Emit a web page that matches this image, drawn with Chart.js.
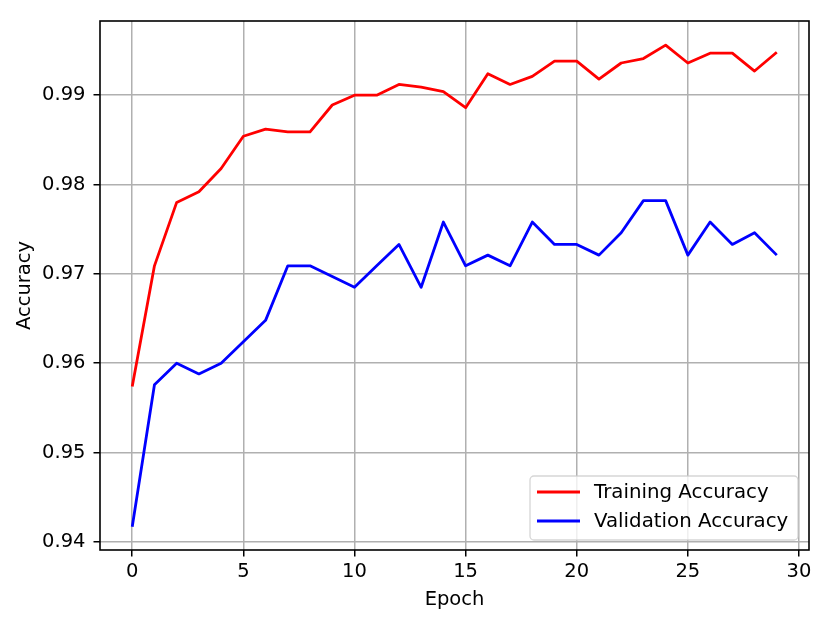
<!DOCTYPE html>
<html>
<head>
<meta charset="utf-8">
<script src="https://cdn.jsdelivr.net/npm/chart.js@4"></script>
<style>
  body { margin: 0; background: #fff; }
  #wrap { width: 830px; height: 625px; }
</style>
</head>
<body>
<div id="wrap"><canvas id="accChart" width="830" height="625"></canvas></div>
<script>
// data
const epochs = [0, 1, 2, 3, 4, 5, 6, 7, 8, 9, 10, 11, 12, 13, 14,
  15, 16, 17, 18, 19, 20, 21, 22, 23, 24, 25, 26, 27, 28, 29];
const trainAcc = [0.9574, 0.9709, 0.9780, 0.9792, 0.9818, 0.9854, 0.9862, 0.9859, 0.9859, 0.9889,
  0.9900, 0.9900, 0.9912, 0.9909, 0.9904, 0.9886, 0.9924, 0.9912, 0.9921, 0.9938,
  0.9938, 0.9918, 0.9936, 0.9941, 0.9956, 0.9936, 0.9947, 0.9947, 0.9927, 0.9948];
const valAcc = [0.9417, 0.9576, 0.9600, 0.9588, 0.9600, 0.9624, 0.9648, 0.9709, 0.9709, 0.9697,
  0.9685, 0.9709, 0.9733, 0.9685, 0.9758, 0.9709, 0.9721, 0.9709, 0.9758, 0.9733,
  0.9733, 0.9721, 0.9746, 0.9782, 0.9782, 0.9721, 0.9758, 0.9733, 0.9746, 0.9721];
const xTicks = [0, 5, 10, 15, 20, 25, 30];
const yTicks = [0.94, 0.95, 0.96, 0.97, 0.98, 0.99];

const FONT = 'DejaVu Sans';
const FS = 19.5;
Chart.defaults.color = '#000';
Chart.defaults.font.family = FONT;
Chart.defaults.font.size = FS;

const toPoints = (ys) => ys.map((y, i) => ({ x: epochs[i], y: y }));

// frame (spines) on top of the lines, then the matplotlib-like legend
const framePlugin = {
  id: 'frame',
  afterDatasetsDraw(chart) {
    const { ctx, chartArea: a } = chart;
    ctx.save();
    ctx.strokeStyle = '#000';
    ctx.lineWidth = 1.6;
    ctx.strokeRect(a.left, a.top, a.right - a.left, a.bottom - a.top);

    // legend box in lower right corner
    const w = 268, h = 64, r = 4;
    const x0 = a.right - 11 - w, y0 = a.bottom - 10 - h;
    ctx.beginPath();
    ctx.roundRect(x0, y0, w, h, r);
    ctx.fillStyle = 'rgba(255,255,255,0.8)';
    ctx.fill();
    ctx.strokeStyle = 'rgba(204,204,204,0.8)';
    ctx.lineWidth = 1.3;
    ctx.stroke();
    ctx.font = '19.8px "' + FONT + '"';
    ctx.textBaseline = 'middle';
    ctx.textAlign = 'left';
    chart.data.datasets.forEach((ds, i) => {
      const y = y0 + 16 + i * 29;
      ctx.beginPath();
      ctx.moveTo(x0 + 7, y);
      ctx.lineTo(x0 + 50, y);
      ctx.strokeStyle = ds.borderColor;
      ctx.lineWidth = 2.8;
      ctx.stroke();
      ctx.fillStyle = '#000';
      ctx.fillText(ds.label, x0 + 64, y + 1);
    });
    ctx.restore();
  }
};

const gridOpts = {
  color: '#b0b0b0',
  lineWidth: 1.5,
  tickColor: '#000',
  tickLength: 6.5,
  tickWidth: 1.5,
};

new Chart(document.getElementById('accChart'), {
  type: 'line',
  data: {
    datasets: [
      {
        label: 'Training Accuracy',
        data: toPoints(trainAcc),
        borderColor: '#ff0000',
        borderWidth: 2.8,
        pointRadius: 0,
        tension: 0,
        borderJoinStyle: 'round',
      },
      {
        label: 'Validation Accuracy',
        data: toPoints(valAcc),
        borderColor: '#0000ff',
        borderWidth: 2.8,
        pointRadius: 0,
        tension: 0,
        borderJoinStyle: 'round',
      },
    ],
  },
  options: {
    responsive: false,
    animation: false,
    layout: { padding: { top: 21, right: 21, bottom: 0, left: 0 } },
    plugins: {
      legend: { display: false },
      tooltip: { enabled: false },
    },
    scales: {
      x: {
        type: 'linear',
        min: -1.45,
        max: 30.45,
        grid: gridOpts,
        border: { display: false },
        afterBuildTicks: (s) => { s.ticks = xTicks.map((v) => ({ value: v })); },
        afterFit: (s) => { s.height = 75; },
        ticks: { padding: 4, maxRotation: 0, callback: (v) => String(v) },
        title: { display: true, text: 'Epoch', padding: { top: 0, bottom: 13 } },
      },
      y: {
        min: 0.9391,
        max: 0.9983,
        grid: gridOpts,
        border: { display: false },
        afterBuildTicks: (s) => { s.ticks = yTicks.map((v) => ({ value: v })); },
        afterFit: (s) => { s.width = 100; },
        ticks: { padding: 8, callback: (v) => v.toFixed(2) },
        title: { display: true, text: 'Accuracy', padding: { top: 13, bottom: 0 } },
      },
    },
  },
  plugins: [framePlugin],
});
</script>
</body>
</html>
